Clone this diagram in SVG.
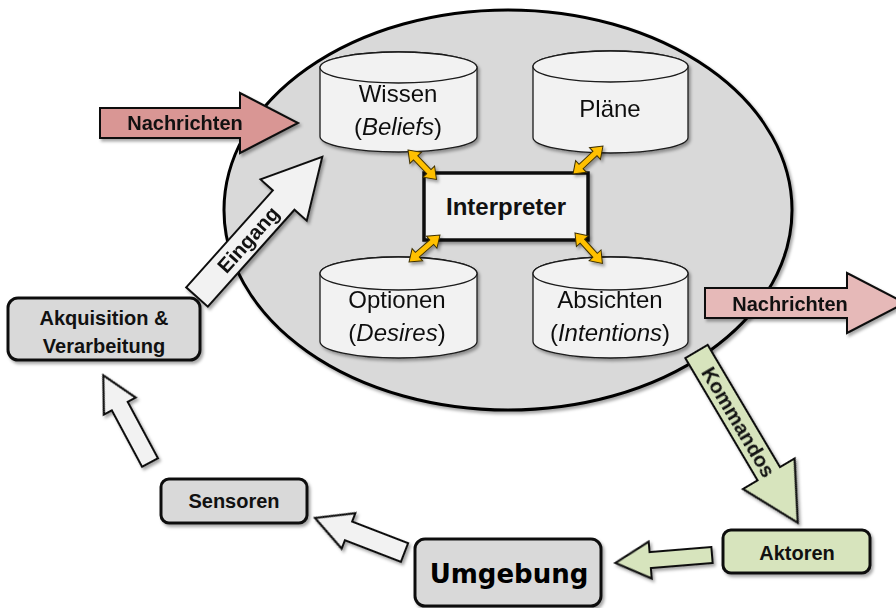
<svg xmlns="http://www.w3.org/2000/svg" xmlns:xlink="http://www.w3.org/1999/xlink" width="896" height="608" viewBox="0 0 896 608">
  <defs>
    <filter id="shadow" x="-20%" y="-20%" width="140%" height="140%">
      <feDropShadow dx="2" dy="2.5" stdDeviation="1.6" flood-color="#000" flood-opacity="0.35"/>
    </filter>
    <!-- short two-headed arrow between the interpreter and a store -->
    <path id="dbl" d="M0,0 L11,-8 V-3 H30 V-8 L41,0 L30,8 V3 H11 V8 Z"/>
    <style>
      .agent { fill: #d9d9d9; stroke: #000; stroke-width: 3; }
      .store { fill: #f2f2f2; stroke: #1a1a1a; stroke-width: 1.3; }
      .box { stroke: #111; stroke-width: 3; }
      .grey { fill: #d9d9d9; }
      .green { fill: #d7e4bd; }
      .light { fill: #f2f2f2; }
      .blk { stroke: #111; stroke-width: 2; stroke-linejoin: miter; }
      .pinkdark { fill: #d99694; }
      .pinklight { fill: #e6b9b8; }
      .yel { fill: #ffc000; stroke: #3d2f00; stroke-width: 1; }
      .lbl { font-family: "Liberation Sans", Arial, sans-serif; font-weight: bold; font-size: 20px; fill: #111; text-anchor: middle; }
      .lbl.lg { font-size: 24px; }
      .lbl.rot { font-size: 20.5px; }
      .st { font-family: "Liberation Sans", Arial, sans-serif; font-size: 24px; fill: #111; text-anchor: middle; }
      .big { font-family: "DejaVu Sans", Verdana, sans-serif; font-weight: bold; font-size: 26px; fill: #000; text-anchor: middle; }
    </style>
  </defs>

  <rect width="896" height="608" fill="#fff"/>

  <!-- agent -->
  <g id="agent">
    <ellipse class="agent" cx="508" cy="210" rx="284" ry="200" filter="url(#shadow)"/>
  </g>

  <!-- data stores -->
  <g id="wissen" filter="url(#shadow)">
    <path class="store" d="M320,67.5 A78.5,15.5 0 0 1 477,67.5 V136.5 A78.5,15.5 0 0 1 320,136.5 Z"/>
    <ellipse class="store" cx="398.5" cy="67.5" rx="78.5" ry="15.5"/>
    <text class="st" x="398" y="102">Wissen</text>
    <text class="st" x="398" y="135">(<tspan font-style="italic">Beliefs</tspan>)</text>
  </g>
  <g id="plaene" filter="url(#shadow)">
    <path class="store" d="M533,66.5 A77.5,15.5 0 0 1 688,66.5 V137.5 A77.5,15.5 0 0 1 533,137.5 Z"/>
    <ellipse class="store" cx="610.5" cy="66.5" rx="77.5" ry="15.5"/>
    <text class="st" x="610" y="117">Pläne</text>
  </g>
  <g id="optionen" filter="url(#shadow)">
    <path class="store" d="M320,273.5 A78.5,16.5 0 0 1 477,273.5 V341.5 A78.5,16.5 0 0 1 320,341.5 Z"/>
    <ellipse class="store" cx="398.5" cy="273.5" rx="78.5" ry="16.5"/>
    <text class="st" x="397" y="308">Optionen</text>
    <text class="st" x="397" y="341">(<tspan font-style="italic">Desires</tspan>)</text>
  </g>
  <g id="absichten" filter="url(#shadow)">
    <path class="store" d="M533,273.5 A77.5,16.5 0 0 1 688,273.5 V341.5 A77.5,16.5 0 0 1 533,341.5 Z"/>
    <ellipse class="store" cx="610.5" cy="273.5" rx="77.5" ry="16.5"/>
    <text class="st" x="610" y="308">Absichten</text>
    <text class="st" x="610" y="341">(<tspan font-style="italic">Intentions</tspan>)</text>
  </g>

  <g id="interpreter">
    <rect x="424" y="173" width="164" height="67" fill="#f2f2f2" stroke="#111" stroke-width="3.5" filter="url(#shadow)"/>
    <text class="lbl lg" x="506" y="215">Interpreter</text>
  </g>

  <!-- surrounding nodes -->
  <g id="akquisition">
    <rect class="box grey" x="8" y="298" width="192" height="62" rx="10" filter="url(#shadow)"/>
    <text class="lbl" x="104" y="325">Akquisition &amp;</text>
    <text class="lbl" x="104" y="353">Verarbeitung</text>
  </g>
  <g id="sensoren">
    <rect class="box grey" x="161" y="479" width="146" height="44" rx="8" filter="url(#shadow)"/>
    <text class="lbl" x="234" y="508">Sensoren</text>
  </g>
  <g id="umgebung">
    <rect class="box grey" x="415" y="539" width="186" height="67" rx="10" filter="url(#shadow)"/>
    <text class="big" x="509" y="583">Umgebung</text>
  </g>
  <g id="aktoren">
    <rect class="box green" x="723" y="530" width="147" height="43" rx="8" filter="url(#shadow)"/>
    <text class="lbl" x="797" y="560">Aktoren</text>
  </g>

  <!-- connectors -->
  <g id="connectors">
    <g filter="url(#shadow)">
      <polygon class="blk pinkdark" points="100,108 240,108 240,93 298,123 240,153 240,138 100,138"/>
      <polygon class="blk pinklight" points="705,288 847,288 847,273 905,303 847,333 847,318 705,318"/>
      <path class="blk light" transform="translate(197,297) rotate(-48.2)" d="M0,-14.5 H130 V-31 L188,0 L130,31 V14.5 H0 Z"/>
      <path class="blk green" transform="translate(696.5,351.5) rotate(59.4)" d="M0,-13 H142 V-30 L199,0 L142,30 V13 H0 Z"/>
      <path class="blk green" transform="translate(712,555) rotate(175.3)" d="M0,-8 H62 V-18.5 L97,0 L62,18.5 V8 H0 Z"/>
      <path class="blk light" transform="translate(404.5,552.5) rotate(201.1)" d="M0,-10 H60 V-19 L96,0 L60,19 V10 H0 Z"/>
      <path class="blk light" transform="translate(150,462.5) rotate(-118.2)" d="M0,-9 H64 V-18 L99,0 L64,18 V9 H0 Z"/>
      <use xlink:href="#dbl" class="yel" transform="translate(408,150) rotate(46)"/>
      <use xlink:href="#dbl" class="yel" transform="translate(603,146) rotate(137)"/>
      <use xlink:href="#dbl" class="yel" transform="translate(440,235) rotate(139)"/>
      <use xlink:href="#dbl" class="yel" transform="translate(575,233) rotate(48)"/>
    </g>
    <text class="lbl" x="185" y="130">Nachrichten</text>
    <text class="lbl" x="790" y="311">Nachrichten</text>
    <text class="lbl rot" transform="translate(197,297) rotate(-48.2)" x="77" y="7">Eingang</text>
    <text class="lbl rot" transform="translate(696.5,351.5) rotate(59.4)" x="82" y="7">Kommandos</text>
  </g>
</svg>
